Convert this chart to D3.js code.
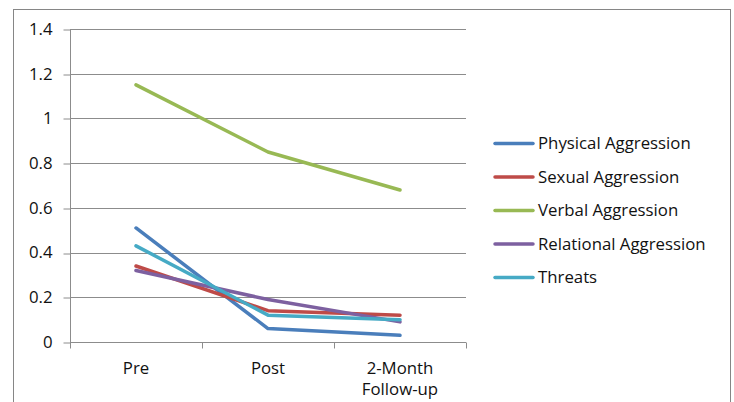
<!DOCTYPE html>
<html>
<head>
<meta charset="utf-8">
<script src="https://cdn.jsdelivr.net/npm/d3@7"></script>
<style>
  html, body { margin: 0; padding: 0; background: #fff; }
  svg { display: block; font-family: "Open Sans", sans-serif; }
</style>
</head>
<body>
<svg id="chart" width="734" height="402"></svg>
<script>
// Measurement occasions
const categories = ["Pre", "Post", "2-Month\nFollow-up"];

// Mean scores per aggression type at each occasion
const physical   = [0.51, 0.06, 0.03];
const sexual     = [0.34, 0.14, 0.12];
const verbal     = [1.15, 0.85, 0.68];
const relational = [0.32, 0.19, 0.09];
const threats    = [0.43, 0.12, 0.10];

const seriesNames = ["Physical Aggression", "Sexual Aggression", "Verbal Aggression", "Relational Aggression", "Threats"];
const seriesColors = ["#4a7ebb", "#be4b48", "#98b954", "#7d60a0", "#46aac5"];
const yTicks = [0, 0.2, 0.4, 0.6, 0.8, 1, 1.2, 1.4];

const series = [physical, sexual, verbal, relational, threats].map((v, i) => ({
  name: seriesNames[i], color: seriesColors[i], values: v
}));

const FONT = "'Open Sans', sans-serif";
const FS = "16.8px";
const svg = d3.select("#chart");
const plot = { left: 70, right: 466, top: 29, bottom: 342 };

// Outer chart frame
svg.append("rect")
  .attr("x", 13.5).attr("y", 9.5)
  .attr("width", 717).attr("height", 420)
  .attr("fill", "none").attr("stroke", "#868686").attr("stroke-width", 1);

const x = d3.scaleBand().domain(categories).range([plot.left, plot.right]);
const y = d3.scaleLinear().domain([0, 1.4]).range([plot.bottom, plot.top]);

// Horizontal gridlines
svg.append("g").selectAll("line").data(yTicks.filter(d => d > 0)).join("line")
  .attr("x1", plot.left).attr("x2", plot.right)
  .attr("y1", d => Math.round(y(d)) + 0.5).attr("y2", d => Math.round(y(d)) + 0.5)
  .attr("stroke", "#8c8c8c").attr("stroke-width", 1);

// Y axis
const yAxis = svg.append("g")
  .attr("transform", `translate(${plot.left + 0.5},0)`)
  .call(d3.axisLeft(y).tickValues(yTicks).tickSize(7).tickPadding(11)
    .tickFormat(d => d3.format("")(+d.toFixed(1))));
yAxis.select(".domain").attr("stroke", "#8c8c8c").attr("d", `M0,${plot.top}V${plot.bottom}`);
yAxis.selectAll(".tick line").attr("stroke", "#8c8c8c")
  .attr("transform", d => `translate(0,${Math.round(y(d)) + 0.5 - y(d)})`);
yAxis.selectAll(".tick text").attr("fill", "#111").style("font-size", FS)
  .style("font-family", FONT);

// X axis with tick marks at band boundaries
const xAxisG = svg.append("g").attr("transform", `translate(0,${plot.bottom + 0.5})`);
xAxisG.append("line").attr("x1", plot.left).attr("x2", plot.right)
  .attr("stroke", "#8c8c8c");
const bounds = categories.map(c => x(c)).concat([x(categories[categories.length - 1]) + x.bandwidth()]);
xAxisG.selectAll("line.tk").data(bounds).join("line").attr("class", "tk")
  .attr("x1", d => Math.round(d) + 0.5).attr("x2", d => Math.round(d) + 0.5)
  .attr("y1", 0).attr("y2", 6).attr("stroke", "#8c8c8c");
const xLabels = xAxisG.selectAll("text").data(categories).join("text")
  .attr("x", d => x(d) + x.bandwidth() / 2)
  .attr("y", 31)
  .attr("text-anchor", "middle")
  .style("font-size", FS)
  .style("font-family", FONT)
  .attr("fill", "#111");
xLabels.each(function (d) {
  const parts = d.split("\n");
  d3.select(this).selectAll("tspan").data(parts).join("tspan")
    .attr("x", x(d) + x.bandwidth() / 2)
    .attr("dy", (p, i) => i === 0 ? 0 : 21)
    .text(p => p);
});

// Series lines
const line = d3.line()
  .x((v, i) => x(categories[i]) + x.bandwidth() / 2)
  .y(v => y(v));
svg.append("g").selectAll("path").data(series).join("path")
  .attr("d", s => line(s.values))
  .attr("fill", "none")
  .attr("stroke", s => s.color)
  .attr("stroke-width", 3.5)
  .attr("stroke-linejoin", "round")
  .attr("stroke-linecap", "round");

// Legend
const legend = svg.append("g").selectAll("g").data(series).join("g")
  .attr("transform", (s, i) => `translate(495,${143.5 + i * 33.5})`);
legend.append("line").attr("x1", 0).attr("x2", 38)
  .attr("stroke", s => s.color).attr("stroke-width", 3.5).attr("stroke-linecap", "round");
legend.append("text").attr("x", 43).attr("y", 5.5)
  .style("font-size", FS).style("font-family", FONT).attr("fill", "#111")
  .text(s => s.name);
</script>
</body>
</html>
